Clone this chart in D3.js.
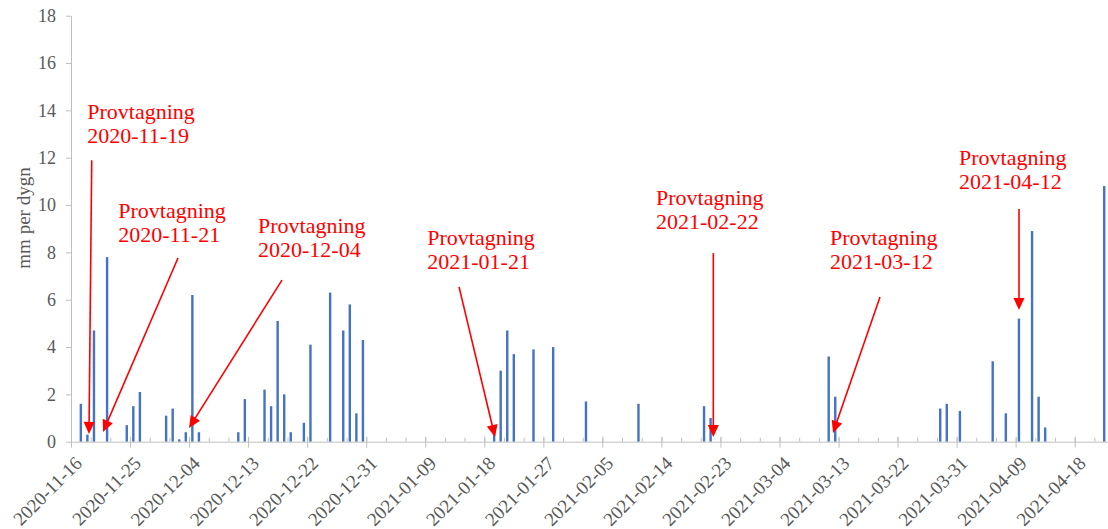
<!DOCTYPE html>
<html><head><meta charset="utf-8">
<script src="https://cdn.jsdelivr.net/npm/d3@7"></script>
<style>body{margin:0;background:#fff;} svg{display:block;}</style>
</head><body>
<svg id="chart" width="1108" height="529"></svg>
<script>
// ---------- data ----------
const dates = ["2020-11-17","2020-11-18","2020-11-19","2020-11-21","2020-11-24","2020-11-25","2020-11-26",
  "2020-11-30","2020-12-01","2020-12-02","2020-12-03","2020-12-04","2020-12-05","2020-12-11","2020-12-12",
  "2020-12-15","2020-12-16","2020-12-17","2020-12-18","2020-12-19","2020-12-21","2020-12-22","2020-12-25",
  "2020-12-27","2020-12-28","2020-12-29","2020-12-30","2021-01-19","2021-01-20","2021-01-21","2021-01-22",
  "2021-01-25","2021-01-28","2021-02-02","2021-02-10","2021-02-20","2021-02-21","2021-03-11","2021-03-12",
  "2021-03-28","2021-03-29","2021-03-31","2021-04-05","2021-04-07","2021-04-09","2021-04-11","2021-04-12",
  "2021-04-13","2021-04-22"];
const values = [1.6,0.3,4.7,7.8,0.7,1.5,2.1,
  1.1,1.4,0.1,0.4,6.2,0.4,0.4,1.8,
  2.2,1.5,5.1,2.0,0.4,0.8,4.1,6.3,
  4.7,5.8,1.2,4.3,0.5,3.0,4.7,3.7,
  3.9,4.0,1.7,1.6,1.5,1.0,3.6,1.9,
  1.4,1.6,1.3,3.4,1.2,5.2,8.9,1.9,
  0.6,10.8];
const yTicks = [0,2,4,6,8,10,12,14,16,18];
const xTickLabels = ["2020-11-16","2020-11-25","2020-12-04","2020-12-13","2020-12-22","2020-12-31",
  "2021-01-09","2021-01-18","2021-01-27","2021-02-05","2021-02-14","2021-02-23","2021-03-04",
  "2021-03-13","2021-03-22","2021-03-31","2021-04-09","2021-04-18"];
const yTitle = "mm per dygn";
const annTitle = "Provtagning";
const annDates = ["2020-11-19","2020-11-21","2020-12-04","2021-01-21","2021-02-22","2021-03-12","2021-04-12"];
// annotation anchors in data units (days from axis start, mm)
const annTextDay  = [2.48, 7.21, 28.51, 54.31, 89.18, 115.7, 135.37];
const annTextVal  = [13.62, 9.45, 8.82, 8.31, 10.0, 8.31, 11.69];
const annStartDay = [3.16, 16.31, 32.16, 59.15, 97.91, 123.32, 144.51];
const annStartVal = [11.89, 7.76, 6.83, 6.54, 7.97, 6.11, 9.83];
const annTipDay   = [2.74, 4.88, 17.99, 64.63, 97.91, 116.16, 144.51];
const annTipVal   = [0.33, 0.41, 0.58, 0.20, 0.20, 0.37, 5.56];

// ---------- scales ----------
const parse = d3.utcParse("%Y-%m-%d");
const fmt = d3.utcFormat("%Y-%m-%d");
const start = parse("2020-11-16"), end = parse("2021-04-23");
const x = d3.scaleUtc().domain([start, end]).range([71, 1107.5]);
const y = d3.scaleLinear().domain([0, 18]).range([441.7, 15.7]);
const dayX = d => x(new Date(start.getTime() + d * 864e5));

const svg = d3.select("#chart");
const axisColor = "#bfbfbf", textColor = "#595959";
const serif = "'Liberation Serif','Times New Roman',serif";

// ---------- bars ----------
const bw = 2.4;
svg.append("g").selectAll("rect").data(dates).join("rect")
  .attr("x", (d) => x(d3.utcHour.offset(parse(d), 12)) - bw / 2)
  .attr("y", (d, i) => y(values[i]))
  .attr("width", bw)
  .attr("height", (d, i) => y(0) - y(values[i]))
  .attr("fill", "#4472C4");

// ---------- y axis ----------
const gy = svg.append("g").attr("transform", `translate(${x.range()[0]},0)`)
  .call(d3.axisLeft(y).tickValues(yTicks).tickSize(5).tickSizeOuter(0).tickPadding(10));
gy.selectAll("path,line").attr("stroke", axisColor);
gy.selectAll("text").attr("fill", textColor).style("font-family", serif).style("font-size", "18px");

// ---------- x axis ----------
const majorTicks = xTickLabels.map(parse);
const minorTicks = d3.range(0, 159, 3).map(d => d3.utcDay.offset(start, d));
const gxMinor = svg.append("g").attr("transform", `translate(0,${y(0)})`)
  .call(d3.axisBottom(x).tickValues(minorTicks).tickSize(-4).tickSizeOuter(0).tickFormat(""));
gxMinor.selectAll("path,line").attr("stroke", axisColor);
const gx = svg.append("g").attr("transform", `translate(0,${y(0)})`)
  .call(d3.axisBottom(x).tickValues(majorTicks).tickSize(6).tickSizeOuter(0).tickFormat(fmt));
gx.select("path").remove();
gx.selectAll("line").attr("stroke", axisColor).attr("y1", -5);
gx.selectAll("text")
  .attr("fill", textColor).style("font-family", serif).style("font-size", "19px")
  .attr("text-anchor", "end").attr("y", 0).attr("dy", "0.35em")
  .attr("transform", "translate(7,18) rotate(-45)");

// ---------- y title ----------
svg.append("text")
  .attr("transform", `translate(30,218) rotate(-90)`)
  .attr("text-anchor", "middle")
  .attr("fill", textColor).style("font-family", serif).style("font-size", "19px")
  .text(yTitle);

// ---------- annotations ----------
const red = "#FF0000";
const ga = svg.append("g");
annDates.forEach((lab, i) => {
  const tx = dayX(annTextDay[i]), ty = y(annTextVal[i]);
  const t = ga.append("text").attr("x", tx).attr("y", ty)
    .attr("fill", red).style("font-family", serif).style("font-size", "22px");
  t.append("tspan").attr("x", tx).text(annTitle);
  t.append("tspan").attr("x", tx).attr("dy", 24).text(lab);
  const x1 = dayX(annStartDay[i]), y1 = y(annStartVal[i]);
  const x2 = dayX(annTipDay[i]), y2 = y(annTipVal[i]);
  const len = Math.hypot(x2 - x1, y2 - y1), ux = (x2 - x1) / len, uy = (y2 - y1) / len;
  const hl = 12, hw = 5.5;
  const bx = x2 - ux * hl, by = y2 - uy * hl;
  ga.append("line").attr("x1", x1).attr("y1", y1).attr("x2", bx + ux).attr("y2", by + uy)
    .attr("stroke", red).attr("stroke-width", 1.6);
  ga.append("path")
    .attr("d", `M${x2},${y2}L${bx - uy * hw},${by + ux * hw}L${bx + uy * hw},${by - ux * hw}Z`)
    .attr("fill", red);
});
</script>
</body></html>
